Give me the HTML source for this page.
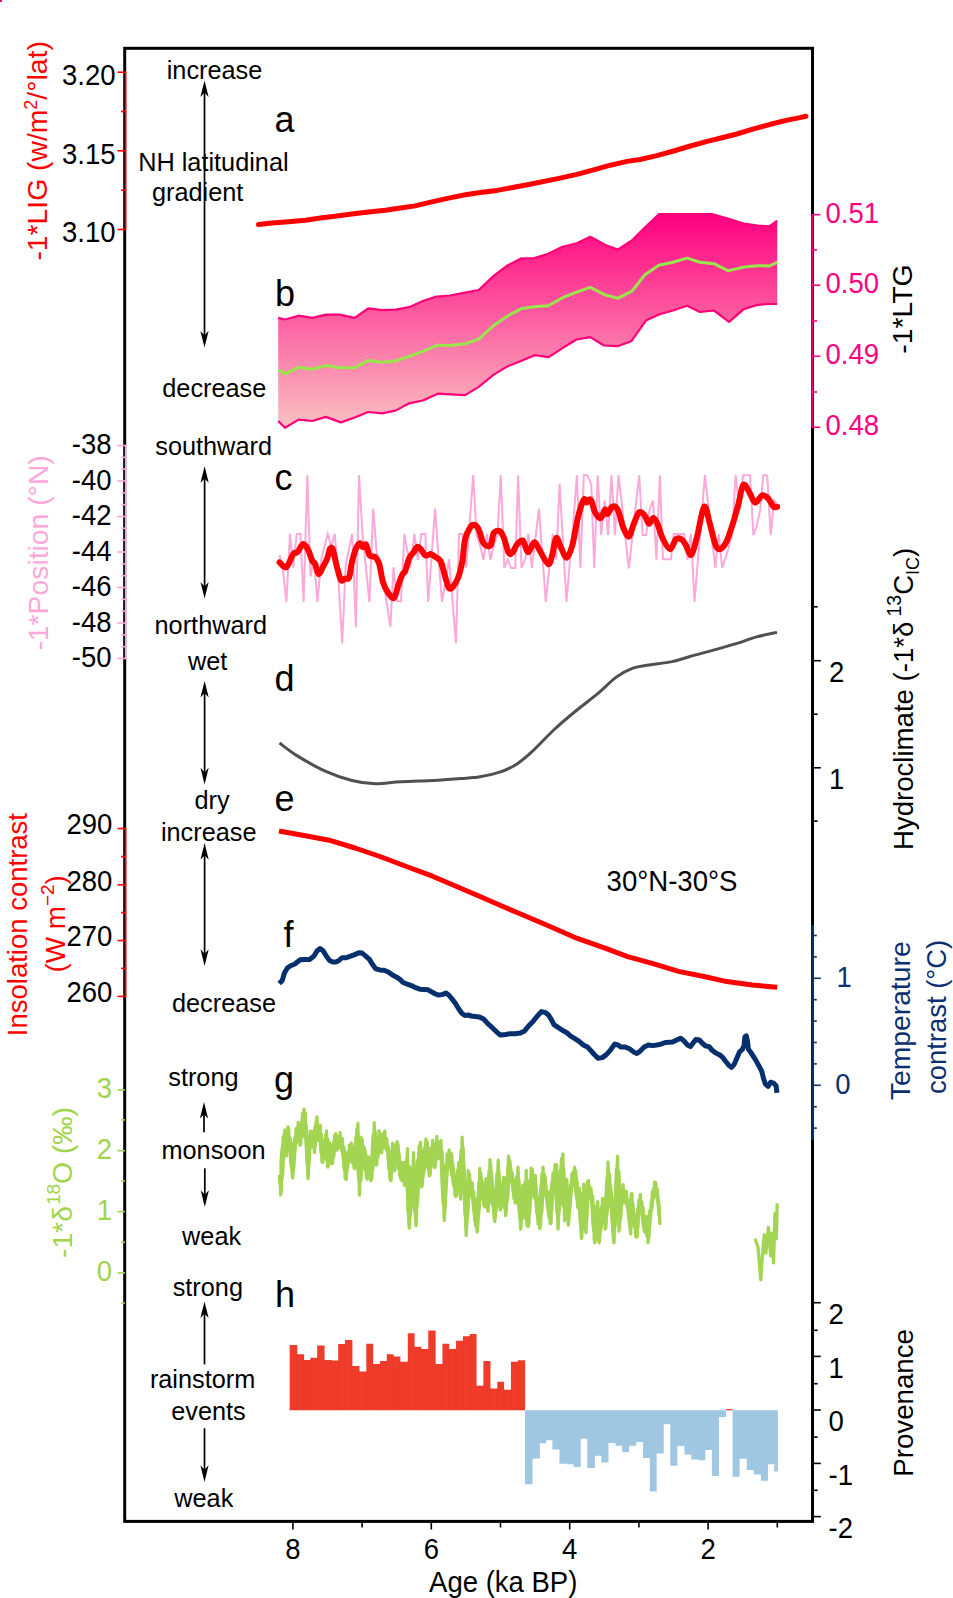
<!DOCTYPE html>
<html><head><meta charset="utf-8"><style>
html,body{margin:0;padding:0;background:#fff;overflow:hidden;width:953px;height:1598px;}
svg{display:block;font-family:"Liberation Sans", sans-serif;}
</style></head><body>
<svg width="953" height="1598" viewBox="0 0 953 1598">
<rect width="953" height="1598" fill="#fff"/>
<polyline points="279.5,555.0 282.9,569.6 286.4,601.9 290.0,533.9 293.3,567.9 296.7,533.9 300.4,533.9 303.6,601.9 307.3,475.2 310.5,576.5 314.0,558.1 317.4,601.9 321.5,558.1 327.8,533.9 331.3,546.6 334.7,533.9 338.2,576.5 342.2,643.3 345.7,565.0 352.1,533.9 355.9,627.2 359.0,475.2 362.5,533.9 369.4,601.9 373.2,508.6 376.8,554.6 381.0,565.0 390.4,627.2 393.5,567.3 397.0,601.3 401.0,601.3 404.4,533.9 410.3,567.9 414.4,533.9 417.8,559.8 421.3,533.9 425.3,533.9 428.2,601.9 435.1,508.6 438.5,558.1 442.0,601.9 449.1,559.3 456.0,643.3 459.0,533.9 462.7,533.9 466.2,567.9 473.2,475.2 476.6,535.1 480.0,545.0 483.5,559.8 487.0,533.9 490.4,559.8 494.0,545.0 497.4,535.1 500.8,475.2 504.3,567.9 507.7,559.8 511.2,567.9 515.2,567.9 518.1,475.2 521.5,567.9 525.6,558.1 528.4,533.9 531.9,567.9 538.9,508.6 545.8,601.9 552.7,533.9 556.2,559.8 559.6,483.8 566.5,601.9 570.0,560.0 573.5,520.0 576.9,475.2 580.4,567.9 583.8,475.2 587.3,475.2 591.3,484.4 594.2,567.9 597.7,475.2 601.2,535.1 604.6,500.5 608.1,535.1 611.5,475.2 615.0,535.1 618.4,475.2 622.0,505.0 625.3,537.0 628.8,568.5 639.2,475.2 642.6,535.1 646.1,535.1 649.5,510.0 653.0,500.5 656.4,559.8 659.9,475.2 662.9,559.3 670.9,559.3 673.8,533.9 684.2,533.9 687.6,559.8 690.9,533.9 694.5,601.9 704.9,475.2 715.3,567.9 718.7,533.9 722.2,567.9 728.0,550.0 732.1,535.1 735.6,475.2 739.6,509.7 743.1,475.2 750.0,475.2 753.4,535.1 757.0,525.0 760.3,509.7 763.2,475.2 767.2,475.2 770.7,535.1 774.1,500.5 777.6,505.1" fill="none" stroke="#fda8da" stroke-width="2" stroke-linejoin="miter"/>
<path d="M279.5,562.3 C280.7,563.1 284.1,568.6 286.4,567.2 C288.6,565.9 291.4,556.6 293.2,554.1 C295.0,551.6 295.6,553.9 297.3,552.2 C299.0,550.5 301.5,544.4 303.3,544.0 C305.1,543.7 306.7,547.2 308.2,550.0 C309.7,552.9 311.2,558.7 312.3,561.0 C313.4,563.2 314.0,561.5 315.0,563.7 C316.1,565.9 317.2,573.6 318.6,574.1 C319.9,574.5 321.8,569.0 323.2,566.4 C324.7,563.8 326.2,561.2 327.3,558.2 C328.4,555.3 329.1,550.1 330.0,548.7 C330.9,547.2 331.6,546.5 332.8,549.5 C333.9,552.5 335.5,561.3 336.8,566.4 C338.2,571.5 339.6,578.0 340.9,580.1 C342.3,582.1 343.7,579.1 345.0,578.7 C346.4,578.2 348.0,580.1 349.1,577.3 C350.3,574.6 350.7,567.1 351.9,562.3 C353.0,557.5 354.6,551.9 355.9,548.7 C357.3,545.5 358.9,543.4 360.0,543.2 C361.2,543.0 361.8,547.1 362.8,547.3 C363.8,547.5 364.9,543.2 366.0,544.6 C367.2,545.9 368.1,553.5 369.6,555.5 C371.1,557.5 373.5,555.5 375.0,556.9 C376.6,558.2 377.8,559.4 379.1,563.7 C380.5,568.0 381.6,577.8 383.2,582.8 C384.8,587.8 386.9,591.2 388.7,593.7 C390.5,596.2 392.6,599.2 394.1,597.8 C395.7,596.4 396.9,589.4 398.2,585.5 C399.6,581.6 401.2,577.0 402.3,574.6 C403.5,572.2 403.9,574.1 405.1,571.3 C406.2,568.6 407.8,561.3 409.2,558.2 C410.5,555.1 411.9,554.7 413.2,552.8 C414.6,550.9 416.0,547.2 417.3,546.8 C418.7,546.3 420.1,548.6 421.4,550.0 C422.8,551.5 423.9,554.8 425.5,555.5 C427.1,556.2 429.4,553.9 431.0,554.1 C432.6,554.4 433.5,555.7 435.1,556.9 C436.7,558.0 438.9,558.0 440.5,561.0 C442.1,563.9 443.3,570.1 444.6,574.6 C446.0,579.1 447.4,585.6 448.7,587.7 C450.1,589.7 451.2,588.6 452.8,586.9 C454.4,585.1 456.7,581.6 458.3,577.3 C459.9,573.0 461.2,567.3 462.4,561.0 C463.5,554.6 463.7,544.8 465.1,539.1 C466.5,533.4 469.0,529.2 470.5,526.8 C472.1,524.5 473.3,524.5 474.6,524.9 C476.0,525.4 477.4,526.8 478.7,529.6 C480.1,532.4 481.5,539.1 482.8,541.9 C484.2,544.6 485.6,545.5 486.9,545.9 C488.3,546.4 489.9,546.7 491.0,544.6 C492.1,542.4 492.4,535.4 493.7,533.1 C495.1,530.9 497.6,530.4 499.2,530.9 C500.8,531.5 501.7,532.8 503.3,536.4 C504.9,540.0 507.2,550.1 508.7,552.8 C510.3,555.4 511.5,553.6 512.8,552.2 C514.2,550.9 515.3,546.5 516.9,544.6 C518.5,542.6 521.2,540.7 522.4,540.5 C523.6,540.3 523.2,541.6 524.2,543.6 C525.3,545.5 526.8,552.3 528.5,552.1 C530.2,551.8 532.3,542.4 534.2,542.2 C536.1,541.9 537.5,547.0 539.8,550.7 C542.2,554.3 546.2,563.8 548.3,564.2 C550.5,564.7 551.3,557.9 552.6,553.5 C553.9,549.1 554.8,538.8 556.3,537.9 C557.7,537.0 559.3,544.5 561.1,547.8 C562.8,551.1 564.9,558.2 566.7,557.7 C568.6,557.3 570.5,551.8 572.4,545.0 C574.3,538.1 576.2,524.2 578.1,516.7 C580.0,509.1 582.3,502.0 583.7,499.7 C585.2,497.3 585.4,502.5 586.6,502.5 C587.8,502.5 589.4,498.0 590.8,499.7 C592.2,501.3 593.4,509.3 595.1,512.4 C596.7,515.5 599.1,518.5 600.7,518.1 C602.4,517.6 603.8,510.3 605.0,509.6 C606.2,508.9 606.6,514.3 607.8,513.8 C609.0,513.4 610.4,507.5 612.1,506.7 C613.7,506.0 615.8,506.0 617.7,509.6 C619.6,513.1 621.5,523.5 623.4,528.0 C625.3,532.5 627.4,537.0 629.1,536.5 C630.7,536.0 631.7,529.2 633.3,525.2 C635.0,521.1 637.1,514.1 639.0,512.4 C640.9,510.8 643.0,513.4 644.6,515.2 C646.3,517.1 647.5,523.3 648.9,523.7 C650.3,524.2 651.7,518.1 653.1,518.1 C654.6,518.1 655.7,520.2 657.4,523.7 C659.0,527.3 660.9,535.1 663.1,539.3 C665.2,543.6 668.0,549.2 670.1,549.2 C672.3,549.2 673.9,541.0 675.8,539.3 C677.7,537.7 679.8,538.4 681.5,539.3 C683.1,540.3 684.1,542.4 685.7,545.0 C687.4,547.6 689.5,556.3 691.4,554.9 C693.3,553.5 694.9,544.5 697.1,536.5 C699.2,528.5 702.0,508.9 704.1,506.7 C706.3,504.6 707.9,517.4 709.8,523.7 C711.7,530.1 713.8,540.7 715.5,545.0 C717.1,549.2 718.1,549.5 719.7,549.2 C721.4,549.0 723.5,546.9 725.4,543.6 C727.3,540.3 728.9,535.8 731.0,529.4 C733.2,523.0 736.1,512.7 738.1,505.3 C740.2,497.9 741.3,487.1 743.2,484.9 C745.1,482.8 747.5,489.7 749.5,492.6 C751.4,495.5 753.0,502.0 755.1,502.5 C757.3,503.0 760.1,496.1 762.2,495.4 C764.3,494.7 766.0,496.4 767.9,498.2 C769.8,500.1 772.0,505.3 773.5,506.7 C775.1,508.2 776.6,506.7 777.2,506.7" fill="none" stroke="#ff0000" stroke-width="6" stroke-linejoin="round" stroke-linecap="round"/>
<rect x="0" y="0" width="2" height="2" fill="#ff0080"/>
<defs>
<linearGradient id="gb" x1="0" y1="214" x2="0" y2="428" gradientUnits="userSpaceOnUse">
<stop offset="0" stop-color="#ff0080"/><stop offset="1" stop-color="#f9c2c2"/>
</linearGradient>
</defs>
<polygon points="278.2,317.9 285.0,319.5 298.6,315.7 312.3,317.9 325.9,314.6 339.6,314.6 354.6,317.9 368.2,308.3 381.9,310.2 395.5,309.7 409.2,307.2 422.8,301.0 436.4,296.6 450.1,295.5 463.7,292.8 478.7,290.0 493.7,275.9 507.4,265.5 521.0,258.4 534.2,258.1 548.3,253.8 562.5,246.7 576.7,243.3 590.3,236.8 605.0,244.8 617.7,249.6 631.9,240.5 644.6,227.8 658.8,214.2 712.6,214.2 726.8,218.4 743.8,223.5 758.0,225.5 769.3,226.3 777.2,220.7 777.2,304.0 769.3,304.0 758.0,304.8 743.8,309.1 729.0,321.8 714.0,310.5 699.9,311.9 687.1,305.7 673.0,310.5 659.5,314.3 645.9,320.6 631.2,341.3 617.5,346.2 603.9,345.5 590.2,337.1 576.6,339.5 563.0,347.8 548.7,357.1 534.6,355.2 521.0,360.9 507.4,366.4 493.7,374.6 478.7,386.9 465.1,395.1 450.1,394.3 437.8,393.7 422.8,400.5 409.2,403.3 395.5,410.6 381.9,413.4 368.2,412.0 354.6,417.5 340.9,422.4 325.9,416.9 312.3,421.0 298.6,419.6 285.0,427.8 278.2,421.0" fill="url(#gb)" stroke="none"/>
<polyline points="278.2,317.9 285.0,319.5 298.6,315.7 312.3,317.9 325.9,314.6 339.6,314.6 354.6,317.9 368.2,308.3 381.9,310.2 395.5,309.7 409.2,307.2 422.8,301.0 436.4,296.6 450.1,295.5 463.7,292.8 478.7,290.0 493.7,275.9 507.4,265.5 521.0,258.4 534.2,258.1 548.3,253.8 562.5,246.7 576.7,243.3 590.3,236.8 605.0,244.8 617.7,249.6 631.9,240.5 644.6,227.8 658.8,214.2 712.6,214.2 726.8,218.4 743.8,223.5 758.0,225.5 769.3,226.3 777.2,220.7" fill="none" stroke="#ff0078" stroke-width="2.2" stroke-linejoin="round"/>
<polyline points="278.2,421.0 285.0,427.8 298.6,419.6 312.3,421.0 325.9,416.9 340.9,422.4 354.6,417.5 368.2,412.0 381.9,413.4 395.5,410.6 409.2,403.3 422.8,400.5 437.8,393.7 450.1,394.3 465.1,395.1 478.7,386.9 493.7,374.6 507.4,366.4 521.0,360.9 534.6,355.2 548.7,357.1 563.0,347.8 576.6,339.5 590.2,337.1 603.9,345.5 617.5,346.2 631.2,341.3 645.9,320.6 659.5,314.3 673.0,310.5 687.1,305.7 699.9,311.9 714.0,310.5 729.0,321.8 743.8,309.1 758.0,304.8 769.3,304.0 777.2,304.0" fill="none" stroke="#ff0078" stroke-width="2.2" stroke-linejoin="round"/>
<polyline points="278.2,369.7 285.0,373.8 298.6,367.3 312.3,369.2 325.9,365.6 339.6,367.8 354.6,367.8 368.2,360.4 381.9,362.3 395.5,361.0 409.2,356.3 422.8,351.4 437.8,345.2 450.1,345.4 465.1,343.8 478.7,339.2 493.7,325.5 507.4,316.0 521.0,308.8 534.2,306.8 548.3,305.7 562.5,297.7 576.7,292.1 590.3,287.3 605.0,294.9 617.7,298.3 631.9,291.2 644.6,275.1 658.8,265.2 673.0,262.3 687.1,258.1 699.9,262.3 714.0,263.7 728.2,270.8 743.8,267.1 758.0,265.7 769.3,266.0 777.2,262.3" fill="none" stroke="#98e64c" stroke-width="3" stroke-linejoin="round"/>
<polyline points="258.4,224.4 271.8,223.1 288.6,221.7 305.4,220.2 322.2,217.7 335.0,216.3 351.8,214.0 368.6,212.0 385.4,210.2 402.2,207.8 415.0,205.9 431.8,201.9 448.6,198.1 465.4,194.8 482.2,192.3 497.0,190.4 530.0,184.2 560.0,178.1 576.8,174.4 593.6,169.8 610.4,165.2 627.2,161.4 640.0,159.5 656.8,155.6 673.6,151.0 690.4,146.0 707.2,141.4 720.0,138.3 736.8,134.0 753.6,128.9 770.4,124.3 787.2,120.1 800.0,117.6 806.0,116.2" fill="none" stroke="#ff0000" stroke-width="5" stroke-linecap="round" stroke-linejoin="round"/>
<path d="M279.5,743.1 C282.5,745.2 289.8,751.3 297.3,755.9 C304.8,760.5 315.5,766.8 324.6,770.9 C333.7,775.0 343.5,778.4 351.9,780.5 C360.3,782.6 366.8,783.6 375.0,783.8 C383.2,784.0 391.2,782.3 401.0,781.8 C410.8,781.2 423.7,781.0 433.7,780.5 C443.7,780.0 453.3,779.2 461.0,778.6 C468.7,778.0 473.6,777.9 480.0,776.8 C486.4,775.7 493.5,774.2 499.5,772.2 C505.5,770.2 510.4,768.2 515.8,764.8 C521.2,761.4 525.5,757.7 532.0,751.7 C538.5,745.7 547.2,736.0 554.8,729.0 C562.4,722.0 570.5,715.3 577.6,709.5 C584.7,703.7 590.6,699.6 597.1,694.2 C603.6,688.8 610.6,681.2 616.6,676.9 C622.6,672.5 627.5,670.1 632.9,668.1 C638.3,666.1 642.7,666.0 649.2,664.9 C655.7,663.8 664.3,663.2 671.9,661.6 C679.5,660.0 687.7,657.1 694.7,655.1 C701.8,653.1 707.2,651.9 714.2,649.9 C721.2,647.9 730.0,645.6 737.0,643.4 C744.0,641.2 749.8,638.7 756.5,636.9 C763.2,635.1 773.6,633.1 777.0,632.4" fill="none" stroke="#505050" stroke-width="3" stroke-linejoin="round"/>
<polyline points="279.0,831.0 302.7,835.3 329.2,840.2 355.0,848.0 380.0,856.5 406.4,866.5 432.5,876.2 456.0,886.2 480.0,896.5 504.7,907.3 520.0,913.8 548.3,925.8 576.7,938.2 605.0,948.2 627.6,956.7 653.1,963.7 678.6,971.4 704.1,976.5 726.8,981.6 752.3,985.0 777.2,987.3" fill="none" stroke="#ff0000" stroke-width="5" stroke-linejoin="round"/>
<polyline points="279.2,983.5 282.3,980.4 284.4,973.0 287.6,967.8 290.7,965.7 294.9,964.0 300.2,959.8 304.4,959.4 309.6,959.4 313.8,956.2 317.0,951.0 320.1,948.5 323.3,951.0 326.4,956.2 329.6,960.4 332.7,961.9 335.9,961.9 339.0,960.4 342.2,957.7 346.4,957.7 350.6,956.2 354.7,954.6 358.9,952.7 362.1,953.1 365.2,955.6 369.4,959.4 372.6,964.6 375.7,968.8 379.9,969.9 384.1,970.3 388.3,972.0 392.5,975.1 396.7,977.2 399.9,979.3 403.0,982.5 407.2,984.1 411.4,985.6 415.6,987.7 419.8,989.2 424.0,989.4 428.2,989.8 432.4,992.3 435.5,994.0 438.7,995.1 442.9,994.4 446.0,993.0 449.2,995.5 452.3,999.3 455.5,1003.5 458.6,1008.7 461.8,1013.3 464.9,1015.6 468.1,1015.0 471.2,1016.0 479.4,1016.9 483.6,1019.0 487.8,1023.6 492.0,1027.4 496.2,1031.6 500.4,1035.1 505.7,1034.5 509.9,1033.7 515.1,1033.7 520.4,1033.0 524.6,1030.9 528.8,1025.7 533.0,1021.5 537.2,1016.2 541.4,1011.6 545.6,1012.7 548.7,1015.2 551.8,1020.4 553.9,1024.6 558.1,1027.4 562.3,1030.3 566.5,1032.4 570.7,1036.2 574.9,1038.7 579.1,1041.4 583.3,1045.0 587.5,1047.1 590.7,1050.4 593.8,1054.0 598.0,1058.2 602.2,1057.6 606.4,1054.6 610.6,1049.8 614.8,1044.1 618.0,1045.0 621.1,1047.1 625.3,1047.1 629.5,1048.8 633.7,1051.9 636.8,1053.4 640.0,1051.3 644.2,1047.1 648.4,1045.0 652.6,1045.6 656.8,1045.0 661.0,1044.1 665.2,1042.5 672.6,1042.1 676.2,1040.3 680.6,1038.2 684.2,1041.2 687.8,1045.3 690.5,1046.6 693.1,1043.0 695.8,1039.4 699.4,1040.0 702.1,1043.0 705.6,1046.0 709.2,1046.6 711.9,1050.1 715.4,1052.8 719.9,1055.0 722.6,1057.3 725.2,1060.8 728.8,1065.3 731.5,1067.4 734.2,1064.4 736.8,1058.2 739.5,1051.9 742.2,1049.6 744.0,1045.7 744.9,1036.8 746.3,1035.9 747.5,1041.2 748.4,1049.2 751.1,1052.8 755.6,1059.9 759.1,1066.2 761.8,1071.5 763.6,1078.7 765.4,1084.0 768.1,1086.3 770.7,1082.2 773.4,1083.1 776.1,1085.8 777.0,1092.9" fill="none" stroke="#062f6e" stroke-width="5" stroke-linejoin="round" stroke-linecap="butt"/>
<path d="M289.65,1410.20 L289.65,1344.92 L297.29,1344.92 L297.29,1354.20 L304.11,1354.20 L304.11,1359.93 L310.38,1359.93 L310.38,1357.75 L317.20,1357.75 L317.20,1345.47 L324.57,1345.47 L324.57,1359.93 L331.39,1359.93 L331.39,1360.48 L338.21,1360.48 L338.21,1344.11 L345.03,1344.11 L345.03,1340.01 L352.40,1340.01 L352.40,1365.93 L359.50,1365.93 L359.50,1371.39 L366.32,1371.39 L366.32,1343.83 L373.14,1343.83 L373.14,1364.02 L379.96,1364.02 L379.96,1361.02 L386.78,1361.02 L386.78,1354.20 L393.60,1354.20 L393.60,1356.38 L400.42,1356.38 L400.42,1361.84 L407.79,1361.84 L407.79,1333.19 L414.61,1333.19 L414.61,1346.83 L421.43,1346.83 L421.43,1349.02 L428.25,1349.02 L428.25,1330.46 L435.62,1330.46 L435.62,1364.02 L442.44,1364.02 L442.44,1343.83 L449.26,1343.83 L449.26,1349.02 L456.08,1349.02 L456.08,1340.83 L462.91,1340.83 L462.91,1336.19 L469.73,1336.19 L469.73,1334.01 L476.55,1334.01 L476.55,1385.85 L483.37,1385.85 L483.37,1361.02 L490.46,1361.02 L490.46,1388.58 L497.29,1388.58 L497.29,1381.76 L504.11,1381.76 L504.11,1389.67 L510.93,1389.67 L510.93,1361.84 L517.75,1361.84 L517.75,1360.20 L525.12,1360.20 L525.12,1410.20 Z" fill="#ef3b29"/>
<line x1="297.29" y1="1354.20" x2="297.29" y2="1410.20" stroke="#e83a2a" stroke-width="0.6"/>
<line x1="304.11" y1="1359.93" x2="304.11" y2="1410.20" stroke="#e83a2a" stroke-width="0.6"/>
<line x1="310.38" y1="1359.93" x2="310.38" y2="1410.20" stroke="#e83a2a" stroke-width="0.6"/>
<line x1="317.20" y1="1357.75" x2="317.20" y2="1410.20" stroke="#e83a2a" stroke-width="0.6"/>
<line x1="324.57" y1="1359.93" x2="324.57" y2="1410.20" stroke="#e83a2a" stroke-width="0.6"/>
<line x1="331.39" y1="1360.48" x2="331.39" y2="1410.20" stroke="#e83a2a" stroke-width="0.6"/>
<line x1="338.21" y1="1360.48" x2="338.21" y2="1410.20" stroke="#e83a2a" stroke-width="0.6"/>
<line x1="345.03" y1="1344.11" x2="345.03" y2="1410.20" stroke="#e83a2a" stroke-width="0.6"/>
<line x1="352.40" y1="1365.93" x2="352.40" y2="1410.20" stroke="#e83a2a" stroke-width="0.6"/>
<line x1="359.50" y1="1371.39" x2="359.50" y2="1410.20" stroke="#e83a2a" stroke-width="0.6"/>
<line x1="366.32" y1="1371.39" x2="366.32" y2="1410.20" stroke="#e83a2a" stroke-width="0.6"/>
<line x1="373.14" y1="1364.02" x2="373.14" y2="1410.20" stroke="#e83a2a" stroke-width="0.6"/>
<line x1="379.96" y1="1364.02" x2="379.96" y2="1410.20" stroke="#e83a2a" stroke-width="0.6"/>
<line x1="386.78" y1="1361.02" x2="386.78" y2="1410.20" stroke="#e83a2a" stroke-width="0.6"/>
<line x1="393.60" y1="1356.38" x2="393.60" y2="1410.20" stroke="#e83a2a" stroke-width="0.6"/>
<line x1="400.42" y1="1361.84" x2="400.42" y2="1410.20" stroke="#e83a2a" stroke-width="0.6"/>
<line x1="407.79" y1="1361.84" x2="407.79" y2="1410.20" stroke="#e83a2a" stroke-width="0.6"/>
<line x1="414.61" y1="1346.83" x2="414.61" y2="1410.20" stroke="#e83a2a" stroke-width="0.6"/>
<line x1="421.43" y1="1349.02" x2="421.43" y2="1410.20" stroke="#e83a2a" stroke-width="0.6"/>
<line x1="428.25" y1="1349.02" x2="428.25" y2="1410.20" stroke="#e83a2a" stroke-width="0.6"/>
<line x1="435.62" y1="1364.02" x2="435.62" y2="1410.20" stroke="#e83a2a" stroke-width="0.6"/>
<line x1="442.44" y1="1364.02" x2="442.44" y2="1410.20" stroke="#e83a2a" stroke-width="0.6"/>
<line x1="449.26" y1="1349.02" x2="449.26" y2="1410.20" stroke="#e83a2a" stroke-width="0.6"/>
<line x1="456.08" y1="1349.02" x2="456.08" y2="1410.20" stroke="#e83a2a" stroke-width="0.6"/>
<line x1="462.91" y1="1340.83" x2="462.91" y2="1410.20" stroke="#e83a2a" stroke-width="0.6"/>
<line x1="469.73" y1="1336.19" x2="469.73" y2="1410.20" stroke="#e83a2a" stroke-width="0.6"/>
<line x1="476.55" y1="1385.85" x2="476.55" y2="1410.20" stroke="#e83a2a" stroke-width="0.6"/>
<line x1="483.37" y1="1385.85" x2="483.37" y2="1410.20" stroke="#e83a2a" stroke-width="0.6"/>
<line x1="490.46" y1="1388.58" x2="490.46" y2="1410.20" stroke="#e83a2a" stroke-width="0.6"/>
<line x1="497.29" y1="1388.58" x2="497.29" y2="1410.20" stroke="#e83a2a" stroke-width="0.6"/>
<line x1="504.11" y1="1389.67" x2="504.11" y2="1410.20" stroke="#e83a2a" stroke-width="0.6"/>
<line x1="510.93" y1="1389.67" x2="510.93" y2="1410.20" stroke="#e83a2a" stroke-width="0.6"/>
<line x1="517.75" y1="1361.84" x2="517.75" y2="1410.20" stroke="#e83a2a" stroke-width="0.6"/>
<path d="M524.92,1410.20 L524.92,1484.33 L532.56,1484.33 L532.56,1458.56 L539.93,1458.56 L539.93,1443.26 L546.16,1443.26 L546.16,1440.14 L552.39,1440.14 L552.39,1449.49 L559.48,1449.49 L559.48,1463.65 L566.84,1463.65 L566.84,1464.22 L573.64,1464.22 L573.64,1467.05 L580.72,1467.05 L580.72,1438.73 L587.24,1438.73 L587.24,1467.90 L594.89,1467.90 L594.89,1455.72 L601.40,1455.72 L601.40,1462.52 L608.48,1462.52 L608.48,1442.97 L615.57,1442.97 L615.57,1445.81 L622.08,1445.81 L622.08,1452.32 L629.16,1452.32 L629.16,1445.81 L636.25,1445.81 L636.25,1442.12 L643.05,1442.12 L643.05,1457.99 L649.84,1457.99 L649.84,1491.42 L656.64,1491.42 L656.64,1453.46 L663.73,1453.46 L663.73,1424.28 L670.24,1424.28 L670.24,1465.64 L677.32,1465.64 L677.32,1446.09 L684.41,1446.09 L684.41,1454.59 L691.20,1454.59 L691.20,1459.41 L698.57,1459.41 L698.57,1460.25 L705.37,1460.25 L705.37,1450.06 L711.88,1450.06 L711.88,1476.12 L718.97,1476.12 L718.97,1416.91 L726.05,1416.91 L726.05,1409.26 L732.56,1409.26 L732.56,1476.69 L739.65,1476.69 L739.65,1458.84 L746.73,1458.84 L746.73,1469.89 L753.81,1469.89 L753.81,1474.42 L760.89,1474.42 L760.89,1480.65 L767.97,1480.65 L767.97,1464.22 L774.21,1464.22 L774.21,1471.59 L777.89,1471.59 L777.89,1410.20 Z" fill="#a0c7e1"/>
<rect x="726.05" y="1409.00" width="6.52" height="1.2" fill="#ef3b29"/>
<polygon points="279.4,1161.3 280.4,1149.1 281.4,1145.1 282.4,1140.7 283.4,1138.1 284.4,1136.1 285.4,1131.6 286.4,1131.3 287.4,1131.5 288.4,1132.2 289.4,1133.9 290.4,1135.5 291.4,1137.9 292.4,1143.3 293.4,1138.0 294.4,1137.2 295.4,1131.0 296.4,1128.4 297.4,1127.6 298.4,1127.3 299.4,1126.9 300.4,1119.8 301.4,1116.3 302.4,1115.4 303.4,1114.2 304.4,1114.6 305.4,1117.4 306.4,1119.4 307.4,1123.7 308.4,1133.5 309.4,1137.1 310.4,1136.6 311.4,1134.5 312.4,1134.2 313.4,1127.1 314.4,1123.3 315.4,1123.0 316.4,1122.9 317.4,1122.2 318.4,1121.9 319.4,1123.5 320.4,1130.9 321.4,1132.2 322.4,1132.9 323.4,1140.3 324.4,1137.2 325.4,1137.9 326.4,1137.7 327.4,1137.3 328.4,1137.4 329.4,1138.7 330.4,1147.8 331.4,1146.5 332.4,1140.9 333.4,1139.2 334.4,1139.1 335.4,1137.6 336.4,1136.7 337.4,1135.6 338.4,1135.8 339.4,1136.2 340.4,1136.2 341.4,1137.3 342.4,1138.8 343.4,1145.1 344.4,1145.7 345.4,1146.8 346.4,1151.5 347.4,1151.4 348.4,1148.7 349.4,1147.0 350.4,1147.0 351.4,1147.1 352.4,1147.3 353.4,1147.2 354.4,1137.0 355.4,1132.8 356.4,1133.1 357.4,1134.6 358.4,1134.1 359.4,1133.7 360.4,1134.7 361.4,1144.9 362.4,1144.3 363.4,1143.2 364.4,1146.3 365.4,1152.1 366.4,1152.5 367.4,1156.0 368.4,1159.9 369.4,1161.2 370.4,1157.8 371.4,1134.9 372.4,1133.9 373.4,1133.7 374.4,1133.1 375.4,1131.4 376.4,1130.1 377.4,1135.9 378.4,1136.5 379.4,1135.9 380.4,1135.1 381.4,1134.8 382.4,1135.0 383.4,1135.4 384.4,1135.1 385.4,1134.9 386.4,1136.3 387.4,1137.8 388.4,1145.8 389.4,1146.6 390.4,1149.7 391.4,1150.1 392.4,1150.3 393.4,1149.1 394.4,1146.3 395.4,1145.8 396.4,1146.2 397.4,1147.1 398.4,1147.9 399.4,1150.0 400.4,1152.6 401.4,1161.0 402.4,1166.1 403.4,1166.1 404.4,1165.9 405.4,1156.7 406.4,1160.5 407.4,1163.2 408.4,1163.9 409.4,1164.8 410.4,1164.9 411.4,1168.3 412.4,1164.9 413.4,1165.6 414.4,1165.5 415.4,1164.6 416.4,1158.7 417.4,1158.9 418.4,1154.0 419.4,1151.9 420.4,1149.7 421.4,1149.8 422.4,1149.7 423.4,1147.0 424.4,1146.7 425.4,1144.4 426.4,1144.4 427.4,1144.7 428.4,1144.9 429.4,1147.4 430.4,1146.7 431.4,1147.2 432.4,1146.7 433.4,1145.6 434.4,1142.1 435.4,1141.8 436.4,1142.4 437.4,1141.7 438.4,1140.4 439.4,1140.6 440.4,1146.7 441.4,1151.5 442.4,1153.4 443.4,1154.5 444.4,1162.7 445.4,1165.8 446.4,1162.2 447.4,1157.0 448.4,1154.3 449.4,1152.9 450.4,1154.6 451.4,1155.3 452.4,1159.3 453.4,1160.8 454.4,1163.5 455.4,1175.2 456.4,1169.0 457.4,1169.3 458.4,1168.4 459.4,1150.3 460.4,1148.3 461.4,1148.2 462.4,1149.4 463.4,1152.0 464.4,1153.5 465.4,1162.3 466.4,1179.5 467.4,1180.4 468.4,1180.5 469.4,1177.6 470.4,1176.3 471.4,1180.2 472.4,1182.3 473.4,1190.5 474.4,1191.8 475.4,1199.4 476.4,1196.2 477.4,1182.2 478.4,1179.8 479.4,1178.1 480.4,1176.9 481.4,1175.4 482.4,1176.4 483.4,1179.9 484.4,1184.4 485.4,1185.3 486.4,1184.8 487.4,1170.5 488.4,1168.8 489.4,1169.3 490.4,1169.4 491.4,1168.9 492.4,1169.8 493.4,1176.0 494.4,1190.0 495.4,1173.2 496.4,1171.5 497.4,1171.7 498.4,1171.2 499.4,1170.3 500.4,1170.8 501.4,1182.7 502.4,1184.2 503.4,1184.1 504.4,1183.2 505.4,1182.7 506.4,1167.0 507.4,1166.0 508.4,1164.1 509.4,1162.7 510.4,1162.2 511.4,1163.0 512.4,1168.3 513.4,1177.6 514.4,1178.7 515.4,1174.7 516.4,1175.2 517.4,1176.0 518.4,1178.1 519.4,1178.2 520.4,1178.4 521.4,1192.3 522.4,1193.7 523.4,1181.1 524.4,1180.8 525.4,1181.6 526.4,1182.9 527.4,1182.2 528.4,1179.1 529.4,1179.4 530.4,1177.1 531.4,1176.0 532.4,1173.4 533.4,1173.5 534.4,1175.4 535.4,1181.8 536.4,1183.3 537.4,1184.7 538.4,1197.5 539.4,1186.5 540.4,1179.7 541.4,1177.0 542.4,1175.6 543.4,1174.8 544.4,1173.0 545.4,1174.0 546.4,1180.7 547.4,1185.2 548.4,1197.3 549.4,1190.1 550.4,1183.4 551.4,1181.3 552.4,1174.4 553.4,1172.4 554.4,1170.1 555.4,1171.5 556.4,1173.4 557.4,1173.8 558.4,1174.4 559.4,1169.0 560.4,1165.3 561.4,1163.3 562.4,1164.1 563.4,1164.9 564.4,1165.6 565.4,1169.1 566.4,1187.5 567.4,1188.9 568.4,1187.2 569.4,1182.9 570.4,1182.9 571.4,1177.9 572.4,1172.8 573.4,1171.2 574.4,1171.3 575.4,1173.2 576.4,1174.0 577.4,1175.4 578.4,1180.5 579.4,1190.1 580.4,1196.0 581.4,1192.2 582.4,1193.6 583.4,1195.1 584.4,1194.1 585.4,1189.8 586.4,1187.7 587.4,1187.7 588.4,1187.3 589.4,1184.4 590.4,1184.7 591.4,1187.5 592.4,1194.6 593.4,1198.5 594.4,1204.4 595.4,1204.3 596.4,1210.2 597.4,1210.3 598.4,1209.3 599.4,1208.7 600.4,1205.6 601.4,1205.6 602.4,1204.3 603.4,1204.0 604.4,1196.0 605.4,1176.8 606.4,1175.9 607.4,1173.9 608.4,1172.0 609.4,1171.2 610.4,1173.0 611.4,1186.3 612.4,1187.1 613.4,1200.6 614.4,1183.0 615.4,1171.4 616.4,1171.8 617.4,1170.3 618.4,1169.5 619.4,1169.5 620.4,1170.8 621.4,1192.2 622.4,1190.1 623.4,1188.6 624.4,1188.9 625.4,1189.1 626.4,1195.4 627.4,1196.5 628.4,1198.0 629.4,1199.6 630.4,1199.7 631.4,1200.3 632.4,1200.4 633.4,1200.7 634.4,1202.4 635.4,1214.6 636.4,1207.9 637.4,1202.4 638.4,1202.1 639.4,1200.7 640.4,1198.6 641.4,1199.7 642.4,1200.9 643.4,1207.4 644.4,1208.0 645.4,1213.9 646.4,1220.9 647.4,1219.4 648.4,1209.6 649.4,1209.0 650.4,1200.4 651.4,1195.4 652.4,1187.7 653.4,1186.6 654.4,1185.2 655.4,1185.1 656.4,1185.9 657.4,1188.2 658.4,1189.8 659.4,1195.1 659.4,1217.3 658.4,1216.4 657.4,1215.3 656.4,1203.8 655.4,1197.7 654.4,1199.5 653.4,1209.9 652.4,1211.1 651.4,1225.1 650.4,1233.8 649.4,1235.7 648.4,1236.3 647.4,1237.5 646.4,1238.0 645.4,1237.1 644.4,1227.7 643.4,1227.1 642.4,1225.3 641.4,1222.5 640.4,1213.4 639.4,1228.3 638.4,1229.7 637.4,1230.0 636.4,1231.8 635.4,1231.8 634.4,1230.5 633.4,1228.6 632.4,1226.7 631.4,1226.6 630.4,1226.0 629.4,1225.8 628.4,1225.7 627.4,1220.7 626.4,1209.4 625.4,1203.3 624.4,1203.1 623.4,1202.3 622.4,1216.7 621.4,1222.3 620.4,1219.5 619.4,1218.2 618.4,1218.2 617.4,1219.0 616.4,1228.1 615.4,1227.7 614.4,1230.9 613.4,1233.1 612.4,1231.6 611.4,1230.8 610.4,1220.7 609.4,1205.7 608.4,1215.0 607.4,1217.4 606.4,1219.4 605.4,1220.3 604.4,1222.9 603.4,1224.0 602.4,1230.6 601.4,1234.6 600.4,1234.5 599.4,1235.5 598.4,1236.0 597.4,1237.1 596.4,1236.9 595.4,1234.8 594.4,1234.9 593.4,1233.8 592.4,1230.9 591.4,1225.7 590.4,1207.3 589.4,1198.3 588.4,1221.1 587.4,1221.5 586.4,1221.5 585.4,1222.7 584.4,1229.4 583.4,1230.5 582.4,1228.9 581.4,1227.5 580.4,1228.4 579.4,1227.6 578.4,1220.0 577.4,1202.2 576.4,1200.2 575.4,1199.5 574.4,1193.7 573.4,1186.1 572.4,1196.7 571.4,1208.9 570.4,1216.4 569.4,1216.3 568.4,1216.8 567.4,1218.5 566.4,1217.8 565.4,1215.4 564.4,1209.0 563.4,1208.4 562.4,1207.6 561.4,1204.9 560.4,1214.0 559.4,1214.8 558.4,1215.9 557.4,1215.8 556.4,1215.3 555.4,1213.5 554.4,1193.8 553.4,1211.0 552.4,1213.1 551.4,1214.7 550.4,1216.2 549.4,1217.8 548.4,1218.3 547.4,1215.7 546.4,1209.3 545.4,1201.6 544.4,1194.4 543.4,1212.5 542.4,1215.4 541.4,1216.8 540.4,1219.5 539.4,1221.9 538.4,1222.5 537.4,1219.2 536.4,1215.0 535.4,1213.5 534.4,1203.2 533.4,1192.8 532.4,1192.7 531.4,1213.0 530.4,1215.0 529.4,1217.3 528.4,1217.0 527.4,1218.6 526.4,1219.3 525.4,1218.0 524.4,1216.4 523.4,1219.2 522.4,1222.1 521.4,1220.7 520.4,1218.7 519.4,1218.6 518.4,1218.5 517.4,1210.2 516.4,1198.6 515.4,1198.1 514.4,1198.3 513.4,1197.2 512.4,1195.8 511.4,1190.4 510.4,1181.3 509.4,1196.9 508.4,1202.7 507.4,1204.6 506.4,1205.6 505.4,1207.7 504.4,1208.2 503.4,1208.9 502.4,1205.5 501.4,1204.0 500.4,1203.1 499.4,1202.7 498.4,1205.1 497.4,1211.6 496.4,1211.4 495.4,1213.1 494.4,1215.2 493.4,1213.6 492.4,1210.2 491.4,1206.1 490.4,1203.1 489.4,1203.0 488.4,1202.5 487.4,1204.2 486.4,1206.3 485.4,1206.5 484.4,1202.7 483.4,1202.0 482.4,1201.4 481.4,1199.6 480.4,1213.7 479.4,1219.4 478.4,1221.0 477.4,1223.5 476.4,1224.7 475.4,1225.7 474.4,1223.7 473.4,1218.6 472.4,1212.8 471.4,1202.1 470.4,1195.7 469.4,1213.6 468.4,1222.6 467.4,1222.6 466.4,1221.7 465.4,1219.3 464.4,1217.4 463.4,1215.8 462.4,1189.8 461.4,1188.6 460.4,1188.6 459.4,1190.6 458.4,1192.9 457.4,1191.5 456.4,1191.2 455.4,1191.8 454.4,1190.1 453.4,1188.7 452.4,1186.6 451.4,1177.8 450.4,1177.1 449.4,1168.1 448.4,1176.7 447.4,1194.5 446.4,1207.9 445.4,1208.8 444.4,1207.6 443.4,1206.4 442.4,1205.3 441.4,1203.3 440.4,1182.2 439.4,1154.9 438.4,1154.7 437.4,1162.1 436.4,1162.8 435.4,1162.2 434.4,1162.5 433.4,1163.3 432.4,1168.6 431.4,1170.3 430.4,1169.8 429.4,1169.5 428.4,1168.9 427.4,1168.7 426.4,1168.4 425.4,1172.8 424.4,1177.8 423.4,1178.1 422.4,1178.5 421.4,1178.6 420.4,1178.5 419.4,1200.1 418.4,1208.0 417.4,1210.6 416.4,1210.4 415.4,1212.0 414.4,1212.9 413.4,1213.0 412.4,1206.4 411.4,1217.3 410.4,1216.5 409.4,1216.4 408.4,1215.5 407.4,1214.8 406.4,1212.1 405.4,1180.6 404.4,1181.0 403.4,1181.1 402.4,1181.2 401.4,1176.9 400.4,1176.0 399.4,1175.2 398.4,1172.0 397.4,1169.4 396.4,1165.0 395.4,1164.5 394.4,1165.0 393.4,1173.5 392.4,1174.7 391.4,1174.5 390.4,1174.1 389.4,1173.8 388.4,1173.1 387.4,1168.9 386.4,1155.9 385.4,1148.1 384.4,1149.4 383.4,1149.7 382.4,1149.3 381.4,1149.3 380.4,1150.3 379.4,1158.1 378.4,1158.9 377.4,1158.3 376.4,1157.6 375.4,1158.9 374.4,1169.7 373.4,1171.3 372.4,1171.5 371.4,1172.5 370.4,1175.2 369.4,1176.7 368.4,1176.2 367.4,1174.1 366.4,1173.4 365.4,1172.9 364.4,1171.8 363.4,1169.1 362.4,1181.5 361.4,1182.2 360.4,1181.2 359.4,1180.3 358.4,1180.7 357.4,1181.1 356.4,1170.6 355.4,1162.1 354.4,1162.9 353.4,1163.8 352.4,1163.9 351.4,1163.7 350.4,1162.8 349.4,1162.8 348.4,1172.4 347.4,1173.5 346.4,1173.6 345.4,1173.3 344.4,1172.2 343.4,1171.6 342.4,1168.6 341.4,1154.9 340.4,1151.4 339.4,1147.5 338.4,1147.1 337.4,1146.9 336.4,1147.3 335.4,1156.7 334.4,1158.5 333.4,1158.6 332.4,1159.1 331.4,1159.8 330.4,1163.4 329.4,1162.2 328.4,1160.9 327.4,1160.8 326.4,1161.2 325.4,1161.4 324.4,1157.6 323.4,1157.9 322.4,1156.8 321.4,1156.1 320.4,1154.9 319.4,1153.1 318.4,1138.6 317.4,1142.0 316.4,1146.2 315.4,1146.3 314.4,1146.6 313.4,1147.4 312.4,1148.3 311.4,1149.1 310.4,1167.6 309.4,1168.1 308.4,1168.1 307.4,1166.4 306.4,1164.8 305.4,1162.8 304.4,1139.8 303.4,1137.2 302.4,1139.0 301.4,1139.9 300.4,1140.8 299.4,1141.9 298.4,1142.3 297.4,1144.3 296.4,1152.8 295.4,1167.2 294.4,1169.4 293.4,1170.2 292.4,1170.4 291.4,1170.1 290.4,1168.7 289.4,1166.3 288.4,1152.2 287.4,1150.4 286.4,1150.2 285.4,1150.5 284.4,1172.8 283.4,1180.2 282.4,1182.9 281.4,1184.8 280.4,1186.6 279.4,1188.6" fill="#a3d553" stroke="none"/>
<path d="M279.4,1174.6 L279.9,1184.0 L280.3,1176.2 L280.7,1194.9 L281.2,1190.3 L281.4,1186.5 L281.7,1165.6 L281.9,1168.5 L282.1,1152.7 L282.7,1151.8 L283.2,1137.3 L283.7,1145.1 L284.2,1133.6 L284.5,1141.2 L284.9,1130.0 L285.2,1137.7 L285.5,1133.0 L285.8,1141.5 L286.1,1135.7 L286.4,1155.9 L286.6,1154.1 L287.0,1150.3 L287.3,1131.6 L287.7,1142.4 L288.0,1126.8 L288.3,1137.7 L288.7,1128.4 L289.0,1142.8 L289.4,1143.2 L289.7,1146.7 L290.1,1138.5 L290.4,1148.3 L290.7,1145.9 L291.1,1157.5 L291.6,1157.1 L292.0,1171.8 L292.4,1176.6 L292.7,1178.0 L293.1,1162.6 L293.4,1171.8 L293.7,1159.6 L294.1,1159.7 L294.4,1141.2 L294.8,1148.0 L295.1,1136.4 L295.6,1142.1 L296.1,1128.4 L296.6,1137.2 L297.1,1131.6 L297.7,1140.4 L298.2,1122.3 L298.7,1139.1 L299.2,1130.9 L299.5,1141.5 L299.7,1133.1 L300.0,1145.3 L300.3,1144.6 L300.7,1144.3 L301.1,1131.9 L301.5,1137.8 L301.9,1125.5 L302.3,1128.5 L302.6,1113.0 L302.9,1123.9 L303.3,1116.6 L303.6,1125.5 L304.0,1108.9 L304.3,1119.8 L304.6,1117.3 L305.0,1123.3 L305.3,1112.9 L305.7,1129.1 L306.0,1125.5 L306.5,1147.6 L307.0,1146.9 L307.5,1168.5 L308.1,1178.7 L308.4,1175.4 L308.7,1151.3 L309.1,1153.4 L309.4,1139.1 L309.9,1140.7 L310.4,1130.9 L311.0,1142.8 L311.5,1132.3 L311.8,1141.1 L312.2,1131.6 L312.5,1140.6 L312.8,1137.7 L313.3,1143.5 L313.9,1139.4 L314.4,1152.6 L314.9,1147.3 L315.2,1144.6 L315.6,1128.1 L315.9,1133.4 L316.2,1121.4 L316.6,1126.6 L316.9,1116.8 L317.3,1129.0 L317.6,1126.8 L318.0,1136.3 L318.3,1128.9 L318.6,1140.4 L319.0,1137.7 L319.3,1138.7 L319.7,1127.2 L320.0,1137.4 L320.3,1125.5 L320.8,1142.4 L321.4,1139.3 L321.9,1161.4 L322.4,1162.3 L322.9,1162.2 L323.4,1148.9 L323.9,1158.1 L324.4,1145.9 L324.9,1148.9 L325.5,1135.1 L326.0,1143.6 L326.5,1130.9 L326.8,1144.0 L327.2,1144.7 L327.5,1165.6 L327.8,1167.1 L328.4,1165.9 L328.9,1150.6 L329.4,1152.3 L329.9,1143.2 L330.4,1151.6 L330.9,1147.1 L331.4,1162.8 L331.9,1163.7 L332.6,1163.2 L333.3,1144.6 L334.0,1148.2 L334.7,1135.7 L335.2,1146.3 L335.7,1133.7 L336.2,1147.6 L336.7,1143.2 L337.2,1150.0 L337.7,1136.6 L338.2,1142.8 L338.8,1137.7 L339.4,1147.5 L340.1,1132.6 L340.8,1146.1 L341.5,1143.2 L342.0,1148.5 L342.5,1138.6 L343.0,1155.9 L343.5,1148.7 L344.0,1159.8 L344.6,1154.3 L345.1,1178.4 L345.6,1177.3 L346.3,1179.4 L346.9,1163.1 L347.6,1167.4 L348.3,1159.6 L348.8,1159.8 L349.3,1145.3 L349.8,1155.6 L350.4,1148.7 L350.8,1155.1 L351.2,1143.0 L351.7,1154.5 L352.1,1145.9 L352.5,1157.2 L352.9,1150.9 L353.4,1164.1 L353.8,1165.0 L354.3,1168.5 L354.8,1154.4 L355.3,1157.9 L355.8,1150.0 L356.3,1149.6 L356.8,1128.6 L357.3,1136.6 L357.9,1123.4 L358.3,1145.8 L358.7,1150.7 L359.1,1181.1 L359.5,1195.0 L359.9,1183.5 L360.4,1162.0 L360.8,1157.6 L361.3,1137.7 L361.8,1143.9 L362.3,1140.1 L362.8,1152.0 L363.3,1150.0 L363.8,1156.7 L364.3,1147.2 L364.8,1156.0 L365.4,1151.4 L365.7,1166.2 L366.0,1155.5 L366.4,1177.7 L366.7,1177.3 L367.2,1179.2 L367.7,1160.7 L368.3,1165.5 L368.8,1156.8 L369.5,1164.9 L370.1,1164.3 L370.8,1180.6 L371.5,1177.3 L371.9,1179.0 L372.3,1157.6 L372.7,1163.8 L373.1,1155.5 L373.4,1154.0 L373.7,1133.4 L374.0,1138.2 L374.2,1122.7 L374.7,1138.0 L375.2,1134.9 L375.8,1157.6 L376.3,1165.0 L376.8,1164.7 L377.3,1144.7 L377.8,1154.0 L378.3,1139.1 L378.7,1145.8 L379.0,1130.6 L379.3,1144.8 L379.7,1136.4 L380.0,1147.6 L380.4,1136.9 L380.7,1151.6 L381.0,1147.3 L381.7,1152.9 L382.4,1133.6 L383.1,1144.4 L383.8,1136.4 L384.3,1145.4 L384.8,1131.0 L385.3,1146.8 L385.8,1141.8 L386.3,1149.5 L386.8,1138.8 L387.4,1151.3 L387.9,1145.9 L388.6,1161.2 L389.2,1160.1 L389.9,1178.7 L390.6,1180.7 L391.1,1180.3 L391.6,1153.7 L392.1,1159.9 L392.6,1143.2 L393.2,1155.2 L393.7,1149.5 L394.2,1170.0 L394.7,1170.5 L395.0,1169.5 L395.4,1149.5 L395.7,1154.3 L396.1,1144.6 L396.6,1152.0 L397.1,1141.7 L397.6,1151.1 L398.1,1144.6 L398.6,1158.1 L399.1,1156.1 L399.6,1175.2 L400.1,1175.9 L400.7,1178.7 L401.2,1163.2 L401.7,1175.2 L402.2,1163.7 L402.0,1171.4 L401.8,1167.7 L401.6,1178.5 L401.4,1177.3 L401.9,1180.5 L402.4,1165.8 L402.9,1169.8 L403.4,1162.3 L403.8,1176.5 L404.1,1167.0 L404.4,1185.2 L404.8,1185.5 L405.5,1184.6 L406.1,1162.3 L406.8,1164.8 L407.5,1148.6 L407.8,1171.4 L408.2,1180.8 L408.5,1212.7 L408.9,1223.7 L409.4,1228.1 L409.9,1207.3 L410.4,1216.5 L410.9,1207.3 L411.6,1200.0 L412.3,1175.3 L413.0,1169.9 L413.6,1152.7 L414.3,1176.8 L414.9,1181.3 L415.5,1215.5 L416.1,1225.7 L416.5,1216.7 L416.9,1184.6 L417.3,1181.6 L417.7,1160.9 L418.4,1160.1 L419.1,1146.2 L419.8,1151.5 L420.5,1142.5 L420.8,1157.6 L421.1,1159.4 L421.5,1182.4 L421.8,1186.8 L422.5,1182.8 L423.2,1162.4 L423.9,1165.2 L424.6,1147.3 L425.2,1154.8 L425.9,1139.0 L426.6,1146.4 L427.3,1141.8 L427.8,1153.3 L428.3,1150.7 L428.8,1170.4 L429.3,1175.9 L430.2,1174.2 L431.0,1151.9 L431.9,1154.0 L432.7,1140.5 L433.3,1155.0 L433.8,1151.3 L434.3,1164.5 L434.8,1167.7 L435.3,1165.5 L435.8,1149.2 L436.3,1152.1 L436.8,1136.4 L437.3,1145.3 L437.9,1142.3 L438.4,1153.7 L438.9,1155.5 L439.4,1158.4 L439.9,1142.5 L440.4,1150.9 L440.9,1140.5 L441.4,1156.5 L442.0,1151.1 L442.5,1176.8 L443.0,1177.3 L443.3,1195.1 L443.7,1194.8 L444.0,1215.2 L444.3,1220.3 L445.0,1207.6 L445.7,1184.4 L446.4,1176.3 L447.1,1154.1 L448.1,1161.1 L449.1,1149.9 L450.1,1158.0 L451.2,1153.4 L451.5,1162.9 L451.8,1155.5 L452.2,1173.2 L452.5,1171.8 L453.4,1184.6 L454.2,1176.7 L455.1,1195.4 L455.9,1196.4 L456.6,1195.6 L457.3,1170.9 L458.0,1174.1 L458.7,1162.3 L459.2,1180.1 L459.7,1173.5 L460.2,1193.4 L460.7,1199.1 L461.1,1189.2 L461.4,1161.4 L461.7,1161.0 L462.1,1137.1 L462.6,1150.5 L463.1,1147.5 L463.6,1170.4 L464.1,1170.5 L464.6,1194.4 L465.1,1194.2 L465.7,1224.7 L466.2,1235.3 L466.7,1225.9 L467.2,1198.9 L467.7,1193.9 L468.2,1170.5 L468.9,1183.4 L469.6,1174.0 L470.3,1193.0 L470.9,1190.9 L471.6,1195.2 L472.3,1182.9 L473.0,1200.3 L473.7,1191.6 L474.0,1207.6 L474.4,1199.9 L474.7,1220.8 L475.0,1220.3 L475.7,1226.2 L476.4,1214.2 L477.1,1231.9 L477.8,1225.0 L478.3,1215.8 L478.8,1193.5 L479.3,1188.1 L479.8,1168.4 L480.3,1180.6 L480.8,1172.8 L481.3,1192.1 L481.9,1192.3 L482.5,1198.6 L483.2,1191.3 L483.9,1205.6 L484.6,1205.9 L484.9,1206.9 L485.3,1188.5 L485.6,1190.3 L485.9,1178.7 L486.5,1194.5 L487.0,1191.4 L487.5,1206.9 L488.0,1211.4 L488.5,1204.4 L489.0,1178.2 L489.5,1180.5 L490.0,1159.6 L490.4,1173.1 L490.7,1163.9 L491.1,1184.8 L491.4,1185.5 L492.3,1203.2 L493.1,1200.3 L494.0,1216.7 L494.8,1221.6 L495.7,1212.3 L496.5,1186.4 L497.4,1182.9 L498.2,1160.2 L498.7,1179.4 L499.2,1179.1 L499.8,1205.6 L500.3,1210.0 L501.1,1208.1 L502.0,1189.0 L502.8,1190.6 L503.7,1177.3 L504.2,1194.9 L504.7,1188.0 L505.2,1210.0 L505.7,1215.5 L506.4,1208.7 L507.1,1177.0 L507.8,1177.0 L508.5,1156.2 L509.1,1166.7 L509.8,1160.7 L510.5,1175.0 L511.2,1173.2 L511.7,1182.1 L512.2,1172.8 L512.7,1185.3 L513.2,1185.5 L513.9,1198.4 L514.6,1187.7 L515.3,1203.0 L516.0,1201.9 L516.5,1200.9 L517.0,1178.2 L517.5,1181.6 L518.0,1167.1 L518.7,1189.6 L519.4,1195.0 L520.1,1219.7 L520.7,1229.1 L521.2,1223.5 L521.8,1198.6 L522.3,1204.9 L522.8,1185.5 L523.3,1198.1 L523.8,1196.2 L524.3,1213.5 L524.8,1218.2 L525.2,1211.7 L525.5,1186.5 L525.9,1190.8 L526.2,1170.5 L526.3,1187.7 L526.3,1188.7 L526.4,1208.8 L526.5,1216.4 L527.0,1225.2 L527.6,1212.3 L528.1,1226.5 L528.7,1225.2 L529.0,1221.8 L529.4,1200.3 L529.8,1196.1 L530.1,1181.1 L530.7,1182.3 L531.2,1168.2 L531.8,1177.0 L532.3,1169.4 L532.7,1180.9 L533.1,1176.0 L533.4,1192.6 L533.8,1195.8 L534.2,1198.0 L534.5,1182.1 L534.9,1186.3 L535.3,1175.3 L535.8,1189.8 L536.4,1191.9 L536.9,1212.1 L537.5,1216.4 L538.2,1224.0 L539.0,1215.7 L539.7,1228.3 L540.4,1225.2 L540.8,1218.4 L541.2,1195.8 L541.5,1190.6 L541.9,1173.8 L542.4,1180.5 L543.0,1167.1 L543.5,1179.8 L544.1,1173.8 L544.6,1186.6 L545.2,1176.8 L545.8,1196.2 L546.3,1192.9 L546.9,1200.0 L547.4,1191.4 L548.0,1209.5 L548.5,1204.6 L549.1,1217.8 L549.6,1209.5 L550.2,1223.6 L550.7,1223.7 L551.1,1221.6 L551.4,1198.4 L551.8,1200.8 L552.2,1181.1 L552.5,1187.2 L552.9,1173.2 L553.3,1178.7 L553.6,1172.3 L554.4,1177.8 L555.1,1164.3 L555.9,1170.1 L556.6,1165.0 L557.0,1188.9 L557.3,1191.6 L557.7,1220.6 L558.1,1228.9 L558.6,1217.9 L559.2,1194.6 L559.7,1192.4 L560.3,1170.9 L560.9,1169.4 L561.6,1158.4 L562.2,1165.2 L562.9,1154.0 L563.3,1179.1 L563.8,1178.6 L564.2,1207.5 L564.7,1220.8 L565.2,1216.4 L565.8,1192.8 L566.3,1195.8 L566.9,1179.7 L567.2,1198.1 L567.6,1198.5 L568.0,1217.0 L568.3,1225.2 L568.9,1219.4 L569.4,1203.9 L570.0,1203.8 L570.5,1188.5 L571.3,1190.2 L572.0,1173.7 L572.7,1179.4 L573.5,1171.6 L574.0,1175.3 L574.6,1167.2 L575.1,1179.0 L575.7,1170.9 L576.2,1189.0 L576.8,1180.7 L577.3,1201.7 L577.9,1207.6 L578.3,1205.9 L578.6,1189.3 L579.0,1198.9 L579.4,1188.5 L579.9,1208.5 L580.5,1208.7 L581.0,1231.6 L581.6,1238.4 L582.1,1230.8 L582.7,1205.8 L583.2,1204.1 L583.8,1184.1 L584.3,1199.0 L584.9,1201.2 L585.4,1228.5 L586.0,1232.6 L586.3,1223.7 L586.7,1201.7 L587.1,1201.9 L587.4,1181.9 L588.0,1188.4 L588.5,1180.5 L589.1,1189.5 L589.6,1187.0 L590.4,1195.1 L591.1,1188.6 L591.8,1201.9 L592.6,1195.8 L593.1,1215.3 L593.7,1212.2 L594.2,1239.2 L594.8,1242.8 L595.5,1239.2 L596.3,1217.0 L597.0,1218.5 L597.7,1201.7 L598.1,1217.9 L598.5,1213.4 L598.8,1240.3 L599.2,1242.8 L599.7,1238.7 L600.3,1217.5 L600.8,1224.9 L601.4,1209.0 L601.9,1215.2 L602.5,1198.3 L603.0,1209.9 L603.6,1203.2 L604.1,1217.8 L604.7,1207.4 L605.2,1229.0 L605.8,1228.1 L606.4,1219.2 L606.9,1187.6 L607.5,1183.8 L608.0,1162.0 L608.7,1177.0 L609.5,1174.3 L610.2,1190.0 L610.9,1192.9 L611.7,1211.0 L612.4,1215.1 L613.1,1235.3 L613.9,1242.8 L614.2,1237.8 L614.6,1212.7 L615.0,1211.7 L615.3,1195.8 L615.9,1194.6 L616.4,1169.1 L617.0,1170.9 L617.6,1156.2 L617.9,1181.7 L618.3,1187.3 L618.7,1218.4 L619.0,1231.1 L619.6,1225.6 L620.1,1200.8 L620.7,1205.9 L621.2,1188.5 L622.1,1197.4 L623.1,1184.7 L624.0,1202.9 L624.9,1195.8 L625.6,1199.8 L626.4,1191.5 L627.1,1206.5 L627.8,1200.2 L628.6,1213.0 L629.3,1211.9 L630.0,1228.6 L630.8,1234.0 L630.8,1227.9 L630.9,1208.8 L631.0,1207.0 L631.1,1193.6 L631.5,1202.1 L632.0,1193.7 L632.5,1212.5 L633.0,1210.5 L633.9,1223.0 L634.8,1214.9 L635.7,1236.6 L636.6,1237.0 L637.2,1236.7 L637.8,1211.9 L638.3,1217.2 L638.9,1200.2 L639.6,1203.8 L640.3,1194.5 L641.1,1208.8 L641.8,1201.7 L642.3,1211.7 L642.9,1207.1 L643.4,1226.3 L644.0,1229.6 L644.7,1232.0 L645.5,1219.2 L646.2,1225.5 L646.9,1216.4 L647.3,1228.8 L647.7,1225.1 L648.0,1242.7 L648.4,1239.9 L649.1,1235.7 L649.9,1214.8 L650.6,1217.7 L651.3,1201.7 L651.9,1203.8 L652.4,1191.3 L653.0,1199.7 L653.5,1189.9 L654.1,1194.3 L654.6,1181.8 L655.2,1191.7 L655.7,1182.6 L656.5,1191.9 L657.2,1189.4 L658.0,1201.2 L658.7,1201.7 L659.1,1209.4 L659.4,1207.6 L659.8,1223.5 L660.2,1220.8" fill="none" stroke="#a3d553" stroke-width="3.3" stroke-linejoin="round"/>
<path d="M755.1,1238.8 L758.0,1247.3 L760.8,1279.9 L762.2,1258.6 L764.2,1234.6 L765.9,1253.0 L768.4,1227.5 L770.7,1255.8 L772.1,1233.1 L773.5,1262.9 L775.0,1213.3 L776.4,1238.8 L777.2,1203.4" fill="none" stroke="#a3d553" stroke-width="3.3" stroke-linejoin="round"/>
<rect x="124.7" y="48.3" width="687.8" height="1473.1000000000001" fill="none" stroke="#000" stroke-width="3"/>
<line x1="125.6" y1="72.2" x2="125.6" y2="229.5" stroke="#ff0000" stroke-width="1.6"/>
<line x1="117.5" y1="72.20" x2="126" y2="72.20" stroke="#ff0000" stroke-width="1.6"/>
<line x1="117.5" y1="150.80" x2="126" y2="150.80" stroke="#ff0000" stroke-width="1.6"/>
<line x1="117.5" y1="229.50" x2="126" y2="229.50" stroke="#ff0000" stroke-width="1.6"/>
<line x1="121" y1="111.50" x2="126" y2="111.50" stroke="#ff0000" stroke-width="1.6"/>
<line x1="121" y1="190.20" x2="126" y2="190.20" stroke="#ff0000" stroke-width="1.6"/>
<text transform="translate(115.5,85.1) scale(1,1.05)" x="0" y="0" font-size="27.5" fill="#000" text-anchor="end" >3.20</text>
<text transform="translate(115.5,164.3) scale(1,1.05)" x="0" y="0" font-size="27.5" fill="#000" text-anchor="end" >3.15</text>
<text transform="translate(115.5,242.4) scale(1,1.05)" x="0" y="0" font-size="27.5" fill="#000" text-anchor="end" >3.10</text>
<text transform="translate(47.2,150.9) rotate(-90)" x="0" y="0" font-size="28.3" fill="#ff0000" text-anchor="middle" >-1*LIG (w/m<tspan font-size="18" dy="-10">2</tspan><tspan dy="10">/°lat)</tspan></text>
<line x1="125.7" y1="445.5" x2="125.7" y2="658.5" stroke="#fda8da" stroke-width="1.6"/>
<line x1="117.1" y1="445.50" x2="126.5" y2="445.50" stroke="#fda8da" stroke-width="1.6"/>
<text transform="translate(111.5,454.3) scale(1,1.05)" x="0" y="0" font-size="27.5" fill="#000" text-anchor="end" >-38</text>
<line x1="121.3" y1="457.33" x2="126.5" y2="457.33" stroke="#fda8da" stroke-width="1.6"/>
<line x1="121.3" y1="469.17" x2="126.5" y2="469.17" stroke="#fda8da" stroke-width="1.6"/>
<line x1="117.1" y1="481.00" x2="126.5" y2="481.00" stroke="#fda8da" stroke-width="1.6"/>
<text transform="translate(111.5,489.8) scale(1,1.05)" x="0" y="0" font-size="27.5" fill="#000" text-anchor="end" >-40</text>
<line x1="121.3" y1="492.83" x2="126.5" y2="492.83" stroke="#fda8da" stroke-width="1.6"/>
<line x1="121.3" y1="504.67" x2="126.5" y2="504.67" stroke="#fda8da" stroke-width="1.6"/>
<line x1="117.1" y1="516.50" x2="126.5" y2="516.50" stroke="#fda8da" stroke-width="1.6"/>
<text transform="translate(111.5,525.3) scale(1,1.05)" x="0" y="0" font-size="27.5" fill="#000" text-anchor="end" >-42</text>
<line x1="121.3" y1="528.33" x2="126.5" y2="528.33" stroke="#fda8da" stroke-width="1.6"/>
<line x1="121.3" y1="540.17" x2="126.5" y2="540.17" stroke="#fda8da" stroke-width="1.6"/>
<line x1="117.1" y1="552.00" x2="126.5" y2="552.00" stroke="#fda8da" stroke-width="1.6"/>
<text transform="translate(111.5,560.8) scale(1,1.05)" x="0" y="0" font-size="27.5" fill="#000" text-anchor="end" >-44</text>
<line x1="121.3" y1="563.83" x2="126.5" y2="563.83" stroke="#fda8da" stroke-width="1.6"/>
<line x1="121.3" y1="575.67" x2="126.5" y2="575.67" stroke="#fda8da" stroke-width="1.6"/>
<line x1="117.1" y1="587.50" x2="126.5" y2="587.50" stroke="#fda8da" stroke-width="1.6"/>
<text transform="translate(111.5,596.3) scale(1,1.05)" x="0" y="0" font-size="27.5" fill="#000" text-anchor="end" >-46</text>
<line x1="121.3" y1="599.33" x2="126.5" y2="599.33" stroke="#fda8da" stroke-width="1.6"/>
<line x1="121.3" y1="611.17" x2="126.5" y2="611.17" stroke="#fda8da" stroke-width="1.6"/>
<line x1="117.1" y1="623.00" x2="126.5" y2="623.00" stroke="#fda8da" stroke-width="1.6"/>
<text transform="translate(111.5,631.8) scale(1,1.05)" x="0" y="0" font-size="27.5" fill="#000" text-anchor="end" >-48</text>
<line x1="121.3" y1="634.83" x2="126.5" y2="634.83" stroke="#fda8da" stroke-width="1.6"/>
<line x1="121.3" y1="646.67" x2="126.5" y2="646.67" stroke="#fda8da" stroke-width="1.6"/>
<line x1="117.1" y1="658.50" x2="126.5" y2="658.50" stroke="#fda8da" stroke-width="1.6"/>
<text transform="translate(111.5,667.3) scale(1,1.05)" x="0" y="0" font-size="27.5" fill="#000" text-anchor="end" >-50</text>
<text transform="translate(47.6,552.9) rotate(-90)" x="0" y="0" font-size="28.3" fill="#fda8da" text-anchor="middle" >-1*Position (°N)</text>
<line x1="125.6" y1="828.5" x2="125.6" y2="996.4" stroke="#ff0000" stroke-width="1.6"/>
<line x1="117.5" y1="828.50" x2="126" y2="828.50" stroke="#ff0000" stroke-width="1.6"/>
<text transform="translate(112.3,834.4) scale(1,1.05)" x="0" y="0" font-size="27.5" fill="#000" text-anchor="end" >290</text>
<line x1="117.5" y1="884.80" x2="126" y2="884.80" stroke="#ff0000" stroke-width="1.6"/>
<text transform="translate(112.3,890.6999999999999) scale(1,1.05)" x="0" y="0" font-size="27.5" fill="#000" text-anchor="end" >280</text>
<line x1="117.5" y1="940.50" x2="126" y2="940.50" stroke="#ff0000" stroke-width="1.6"/>
<text transform="translate(112.3,946.4) scale(1,1.05)" x="0" y="0" font-size="27.5" fill="#000" text-anchor="end" >270</text>
<line x1="117.5" y1="996.40" x2="126" y2="996.40" stroke="#ff0000" stroke-width="1.6"/>
<text transform="translate(112.3,1002.3) scale(1,1.05)" x="0" y="0" font-size="27.5" fill="#000" text-anchor="end" >260</text>
<line x1="121" y1="856.60" x2="126" y2="856.60" stroke="#ff0000" stroke-width="1.6"/>
<line x1="121" y1="912.60" x2="126" y2="912.60" stroke="#ff0000" stroke-width="1.6"/>
<line x1="121" y1="968.40" x2="126" y2="968.40" stroke="#ff0000" stroke-width="1.6"/>
<text transform="translate(26.5,924.6) rotate(-90)" x="0" y="0" font-size="27.5" fill="#ff0000" text-anchor="middle" >Insolation contrast</text>
<text transform="translate(65.0,923.8) rotate(-90)" x="0" y="0" font-size="27.8" fill="#ff0000" text-anchor="middle" >(W m<tspan font-size="19" dy="-11.5">−2</tspan><tspan dy="11.5">)</tspan></text>
<line x1="117.5" y1="1089.90" x2="125" y2="1089.90" stroke="#a0d44c" stroke-width="1.6"/>
<text transform="translate(112.0,1098.3000000000002) scale(1,1.05)" x="0" y="0" font-size="27.5" fill="#a0d44c" text-anchor="end" >3</text>
<line x1="117.5" y1="1150.70" x2="125" y2="1150.70" stroke="#a0d44c" stroke-width="1.6"/>
<text transform="translate(112.0,1159.1000000000001) scale(1,1.05)" x="0" y="0" font-size="27.5" fill="#a0d44c" text-anchor="end" >2</text>
<line x1="117.5" y1="1211.60" x2="125" y2="1211.60" stroke="#a0d44c" stroke-width="1.6"/>
<text transform="translate(112.0,1220.0) scale(1,1.05)" x="0" y="0" font-size="27.5" fill="#a0d44c" text-anchor="end" >1</text>
<line x1="117.5" y1="1272.90" x2="125" y2="1272.90" stroke="#a0d44c" stroke-width="1.6"/>
<text transform="translate(112.0,1281.3000000000002) scale(1,1.05)" x="0" y="0" font-size="27.5" fill="#a0d44c" text-anchor="end" >0</text>
<line x1="121.2" y1="1119.90" x2="125" y2="1119.90" stroke="#a0d44c" stroke-width="1.6"/>
<line x1="121.2" y1="1180.90" x2="125" y2="1180.90" stroke="#a0d44c" stroke-width="1.6"/>
<line x1="121.2" y1="1242.20" x2="125" y2="1242.20" stroke="#a0d44c" stroke-width="1.6"/>
<line x1="121.2" y1="1303.00" x2="125" y2="1303.00" stroke="#a0d44c" stroke-width="1.6"/>
<text transform="translate(72.0,1182.5) rotate(-90)" x="0" y="0" font-size="28.3" fill="#a0d44c" text-anchor="middle" >-1*δ<tspan font-size="19" dy="-12" dx="1">18</tspan><tspan dy="12">O (‰)</tspan></text>
<line x1="812.3" y1="214.6" x2="812.3" y2="427.3" stroke="#ff0080" stroke-width="2"/>
<line x1="812" y1="214.60" x2="820.3" y2="214.60" stroke="#ff0080" stroke-width="1.6"/>
<text transform="translate(825.5,222.6) scale(1,1.05)" x="0" y="0" font-size="27.5" fill="#ff0080" text-anchor="start" >0.51</text>
<line x1="812" y1="285.20" x2="820.3" y2="285.20" stroke="#ff0080" stroke-width="1.6"/>
<text transform="translate(825.5,293.2) scale(1,1.05)" x="0" y="0" font-size="27.5" fill="#ff0080" text-anchor="start" >0.50</text>
<line x1="812" y1="356.30" x2="820.3" y2="356.30" stroke="#ff0080" stroke-width="1.6"/>
<text transform="translate(825.5,364.3) scale(1,1.05)" x="0" y="0" font-size="27.5" fill="#ff0080" text-anchor="start" >0.49</text>
<line x1="812" y1="427.30" x2="820.3" y2="427.30" stroke="#ff0080" stroke-width="1.6"/>
<text transform="translate(825.5,435.3) scale(1,1.05)" x="0" y="0" font-size="27.5" fill="#ff0080" text-anchor="start" >0.48</text>
<line x1="812" y1="250.00" x2="817" y2="250.00" stroke="#ff0080" stroke-width="1.6"/>
<line x1="812" y1="321.00" x2="817" y2="321.00" stroke="#ff0080" stroke-width="1.6"/>
<line x1="812" y1="392.00" x2="817" y2="392.00" stroke="#ff0080" stroke-width="1.6"/>
<text transform="translate(912.2,309.1) rotate(-90)" x="0" y="0" font-size="28.3" fill="#000" text-anchor="middle" >-1*LTG</text>
<line x1="813" y1="606.80" x2="817.7" y2="606.80" stroke="#000" stroke-width="1.6"/>
<line x1="813" y1="714.20" x2="817.7" y2="714.20" stroke="#000" stroke-width="1.6"/>
<line x1="813" y1="821.10" x2="817.7" y2="821.10" stroke="#000" stroke-width="1.6"/>
<line x1="813" y1="660.70" x2="820.8" y2="660.70" stroke="#000" stroke-width="1.6"/>
<text transform="translate(829.0,681.8000000000001) scale(1,1.05)" x="0" y="0" font-size="27.5" fill="#000" text-anchor="start" >2</text>
<line x1="813" y1="767.80" x2="820.8" y2="767.80" stroke="#000" stroke-width="1.6"/>
<text transform="translate(829.0,788.9) scale(1,1.05)" x="0" y="0" font-size="27.5" fill="#000" text-anchor="start" >1</text>
<text transform="translate(912.5,698.9) rotate(-90)" x="0" y="0" font-size="27.6" fill="#000" text-anchor="middle" >Hydroclimate (-1*δ<tspan font-size="19.5" dy="-12" dx="5">13</tspan><tspan dy="12">C</tspan><tspan font-size="18" dy="6">IC</tspan><tspan dy="-6">)</tspan></text>
<line x1="812.6" y1="925" x2="812.6" y2="1140" stroke="#0b2f6f" stroke-width="2.6"/>
<line x1="812" y1="935.50" x2="816.8" y2="935.50" stroke="#0b2f6f" stroke-width="1.6"/>
<line x1="812" y1="956.90" x2="816.8" y2="956.90" stroke="#0b2f6f" stroke-width="1.6"/>
<line x1="812" y1="978.30" x2="820.8" y2="978.30" stroke="#0b2f6f" stroke-width="1.6"/>
<line x1="812" y1="999.70" x2="816.8" y2="999.70" stroke="#0b2f6f" stroke-width="1.6"/>
<line x1="812" y1="1021.10" x2="816.8" y2="1021.10" stroke="#0b2f6f" stroke-width="1.6"/>
<line x1="812" y1="1042.50" x2="816.8" y2="1042.50" stroke="#0b2f6f" stroke-width="1.6"/>
<line x1="812" y1="1063.90" x2="816.8" y2="1063.90" stroke="#0b2f6f" stroke-width="1.6"/>
<line x1="812" y1="1085.30" x2="820.8" y2="1085.30" stroke="#0b2f6f" stroke-width="1.6"/>
<line x1="812" y1="1106.70" x2="816.8" y2="1106.70" stroke="#0b2f6f" stroke-width="1.6"/>
<line x1="812" y1="1128.10" x2="816.8" y2="1128.10" stroke="#0b2f6f" stroke-width="1.6"/>
<text transform="translate(836.5,987.4000000000001) scale(1,1.05)" x="0" y="0" font-size="27.5" fill="#0b2f6f" text-anchor="start" >1</text>
<text transform="translate(835.2,1094.3000000000002) scale(1,1.05)" x="0" y="0" font-size="27.5" fill="#0b2f6f" text-anchor="start" >0</text>
<text transform="translate(910.3,1020.8) rotate(-90)" x="0" y="0" font-size="28.3" fill="#0b2f6f" text-anchor="middle" >Temperature</text>
<text transform="translate(945.6,1016.9) rotate(-90)" x="0" y="0" font-size="27.4" fill="#0b2f6f" text-anchor="middle" >contrast (°C)</text>
<line x1="813" y1="1302.70" x2="820.8" y2="1302.70" stroke="#000" stroke-width="1.6"/>
<line x1="813" y1="1330.30" x2="817.7" y2="1330.30" stroke="#000" stroke-width="1.6"/>
<line x1="813" y1="1356.40" x2="820.8" y2="1356.40" stroke="#000" stroke-width="1.6"/>
<line x1="813" y1="1383.70" x2="817.7" y2="1383.70" stroke="#000" stroke-width="1.6"/>
<line x1="813" y1="1410.00" x2="820.8" y2="1410.00" stroke="#000" stroke-width="1.6"/>
<line x1="813" y1="1437.10" x2="817.7" y2="1437.10" stroke="#000" stroke-width="1.6"/>
<line x1="813" y1="1463.40" x2="820.8" y2="1463.40" stroke="#000" stroke-width="1.6"/>
<line x1="813" y1="1490.30" x2="817.7" y2="1490.30" stroke="#000" stroke-width="1.6"/>
<line x1="813" y1="1516.60" x2="820.8" y2="1516.60" stroke="#000" stroke-width="1.6"/>
<text transform="translate(828.5,1323.8) scale(1,1.05)" x="0" y="0" font-size="27.5" fill="#000" text-anchor="start" >2</text>
<text transform="translate(828.5,1377.5) scale(1,1.05)" x="0" y="0" font-size="27.5" fill="#000" text-anchor="start" >1</text>
<text transform="translate(828.5,1431.1) scale(1,1.05)" x="0" y="0" font-size="27.5" fill="#000" text-anchor="start" >0</text>
<text transform="translate(828.5,1484.5) scale(1,1.05)" x="0" y="0" font-size="27.5" fill="#000" text-anchor="start" >-1</text>
<text transform="translate(828.5,1537.6999999999998) scale(1,1.05)" x="0" y="0" font-size="27.5" fill="#000" text-anchor="start" >-2</text>
<text transform="translate(913.4,1402.9) rotate(-90)" x="0" y="0" font-size="27.7" fill="#000" text-anchor="middle" >Provenance</text>
<line x1="777.3" y1="1522" x2="777.3" y2="1527.5" stroke="#000" stroke-width="1.6"/>
<line x1="708.1" y1="1522" x2="708.1" y2="1529.5" stroke="#000" stroke-width="1.6"/>
<text transform="translate(708.1,1558.6) scale(1,1.05)" x="0" y="0" font-size="27.5" fill="#000" text-anchor="middle" >2</text>
<line x1="638.9" y1="1522" x2="638.9" y2="1527.5" stroke="#000" stroke-width="1.6"/>
<line x1="569.7" y1="1522" x2="569.7" y2="1529.5" stroke="#000" stroke-width="1.6"/>
<text transform="translate(569.7,1558.6) scale(1,1.05)" x="0" y="0" font-size="27.5" fill="#000" text-anchor="middle" >4</text>
<line x1="500.5" y1="1522" x2="500.5" y2="1527.5" stroke="#000" stroke-width="1.6"/>
<line x1="431.3" y1="1522" x2="431.3" y2="1529.5" stroke="#000" stroke-width="1.6"/>
<text transform="translate(431.3,1558.6) scale(1,1.05)" x="0" y="0" font-size="27.5" fill="#000" text-anchor="middle" >6</text>
<line x1="362.1" y1="1522" x2="362.1" y2="1527.5" stroke="#000" stroke-width="1.6"/>
<line x1="292.9" y1="1522" x2="292.9" y2="1529.5" stroke="#000" stroke-width="1.6"/>
<text transform="translate(292.9,1558.6) scale(1,1.05)" x="0" y="0" font-size="27.5" fill="#000" text-anchor="middle" >8</text>
<text transform="translate(503.2,1591.6) scale(1,1.04)" x="0" y="0" font-size="27.5" fill="#000" text-anchor="middle" >Age (ka BP)</text>
<text x="214.5" y="79" font-size="25.3" fill="#000" text-anchor="middle" >increase</text>
<text x="213.4" y="170.7" font-size="25.3" fill="#000" text-anchor="middle" >NH latitudinal</text>
<text x="197.7" y="201" font-size="25.3" fill="#000" text-anchor="middle" >gradient</text>
<text x="214.3" y="397" font-size="25.3" fill="#000" text-anchor="middle" >decrease</text>
<text x="213.6" y="455.2" font-size="25.3" fill="#000" text-anchor="middle" >southward</text>
<text x="210.8" y="633.8" font-size="25.3" fill="#000" text-anchor="middle" >northward</text>
<text x="207.6" y="669.5" font-size="25.3" fill="#000" text-anchor="middle" >wet</text>
<text x="212.1" y="809.4" font-size="25.3" fill="#000" text-anchor="middle" >dry</text>
<text x="208.7" y="840.8" font-size="25.3" fill="#000" text-anchor="middle" >increase</text>
<text x="224" y="1012.1" font-size="25.3" fill="#000" text-anchor="middle" >decrease</text>
<text x="203.4" y="1086" font-size="25.3" fill="#000" text-anchor="middle" >strong</text>
<text x="213.5" y="1159" font-size="25.3" fill="#000" text-anchor="middle" >monsoon</text>
<text x="211.6" y="1244.7" font-size="25.3" fill="#000" text-anchor="middle" >weak</text>
<text x="207.8" y="1296" font-size="25.3" fill="#000" text-anchor="middle" >strong</text>
<text x="202.6" y="1387.5" font-size="25.3" fill="#000" text-anchor="middle" >rainstorm</text>
<text x="208.5" y="1420.4" font-size="25.3" fill="#000" text-anchor="middle" >events</text>
<text x="203.8" y="1507.1" font-size="25.3" fill="#000" text-anchor="middle" >weak</text>
<text transform="translate(672.0,891.2) scale(1,1.04)" x="0" y="0" font-size="27.6" fill="#000" text-anchor="middle" >30°N-30°S</text>
<text x="274.5" y="132.2" font-size="36" fill="#000" text-anchor="start" >a</text>
<text x="275" y="305.5" font-size="36" fill="#000" text-anchor="start" >b</text>
<text x="274.5" y="490" font-size="36" fill="#000" text-anchor="start" >c</text>
<text x="274.5" y="690.5" font-size="36" fill="#000" text-anchor="start" >d</text>
<text x="274.5" y="810.5" font-size="36" fill="#000" text-anchor="start" >e</text>
<text x="283.5" y="946.5" font-size="36" fill="#000" text-anchor="start" >f</text>
<text x="274" y="1092" font-size="36" fill="#000" text-anchor="start" >g</text>
<text x="275" y="1306.5" font-size="36" fill="#000" text-anchor="start" >h</text>
<line x1="204.5" y1="90.4" x2="204.5" y2="337.5" stroke="#000" stroke-width="1.7"/>
<polygon points="204.5,80.4 208.6,97.0 204.5,92.6 200.4,97.0" fill="#000"/>
<polygon points="204.5,347.5 208.6,330.9 204.5,335.3 200.4,330.9" fill="#000"/>
<line x1="204.6" y1="476.2" x2="204.6" y2="588.6" stroke="#000" stroke-width="1.7"/>
<polygon points="204.6,466.2 208.7,482.8 204.6,478.4 200.5,482.8" fill="#000"/>
<polygon points="204.6,598.6 208.7,582.0 204.6,586.4 200.5,582.0" fill="#000"/>
<line x1="204.6" y1="690.9" x2="204.6" y2="774.4" stroke="#000" stroke-width="1.7"/>
<polygon points="204.6,680.9 208.7,697.5 204.6,693.1 200.5,697.5" fill="#000"/>
<polygon points="204.6,784.4 208.7,767.8 204.6,772.2 200.5,767.8" fill="#000"/>
<line x1="204.6" y1="853.1" x2="204.6" y2="955.9" stroke="#000" stroke-width="1.7"/>
<polygon points="204.6,843.1 208.7,859.7 204.6,855.3 200.5,859.7" fill="#000"/>
<polygon points="204.6,965.9 208.7,949.3 204.6,953.7 200.5,949.3" fill="#000"/>
<line x1="204.0" y1="1112.0" x2="204.0" y2="1132.2" stroke="#000" stroke-width="1.7"/>
<polygon points="204.0,1102.0 208.1,1118.6 204.0,1114.2 199.9,1118.6" fill="#000"/>
<line x1="204.8" y1="1168.3" x2="204.8" y2="1196.9" stroke="#000" stroke-width="1.7"/>
<polygon points="204.8,1206.9 208.9,1190.3 204.8,1194.7 200.7,1190.3" fill="#000"/>
<line x1="204.5" y1="1311.4" x2="204.5" y2="1364.4" stroke="#000" stroke-width="1.7"/>
<polygon points="204.5,1301.4 208.6,1318.0 204.5,1313.6 200.4,1318.0" fill="#000"/>
<line x1="204.5" y1="1428.2" x2="204.5" y2="1471.9" stroke="#000" stroke-width="1.7"/>
<polygon points="204.5,1481.9 208.6,1465.3 204.5,1469.7 200.4,1465.3" fill="#000"/>
</svg>
</body></html>
